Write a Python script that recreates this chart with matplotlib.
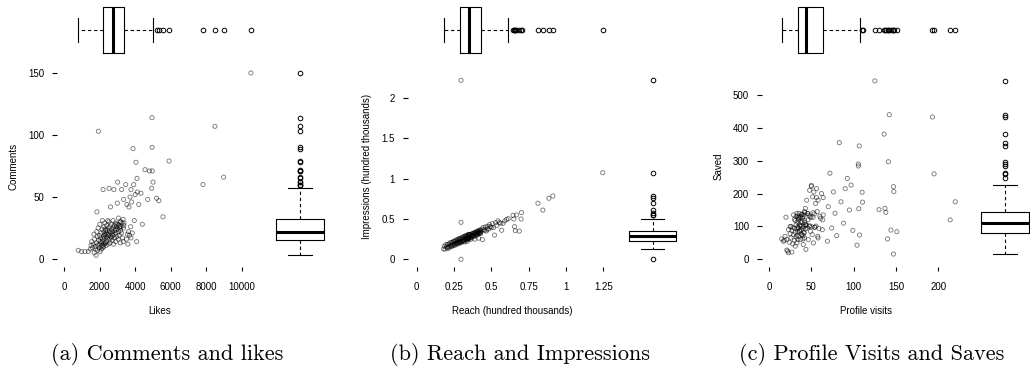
import matplotlib.pyplot as plt

plt.rcParams['font.family'] = ['Liberation Sans', 'DejaVu Sans']

# (a) likes vs comments
likes = [800, 990, 1180, 1365, 1480, 1520, 1560, 1600, 1640, 1680, 1700, 1720, 1750, 1780, 1800, 1820, 1840, 1850, 1870, 1890,
         1900, 1920, 1930, 1950, 1970, 1990, 2000, 2010, 2030, 2050, 2060, 2080, 2090, 2100, 2120, 2140, 2150, 2160, 2170, 2180,
         2195, 2200, 2215, 2225, 2235, 2245, 2255, 2265, 2280, 2290, 2300, 2310, 2325, 2340, 2350, 2365, 2380, 2390, 2400, 2410,
         2425, 2440, 2455, 2470, 2480, 2495, 2510, 2520, 2535, 2545, 2560, 2575, 2590, 2600, 2615, 2630, 2645, 2660, 2675, 2690,
         2710, 2725, 2740, 2755, 2770, 2785, 2800, 2815, 2830, 2845, 2860, 2875, 2890, 2905, 2920, 2935, 2950, 2965, 2980, 2995,
         3015, 3030, 3045, 3060, 3075, 3090, 3105, 3120, 3135, 3150, 3165, 3180, 3195, 3210, 3225, 3240, 3260, 3290, 3320, 3350,
         3330, 3345, 3360, 3368, 3466, 3510, 3530, 3560, 3590, 3620, 3650, 3680, 3710, 3740, 3760, 3764, 3800, 3840, 3880, 3916,
         3950, 4000, 4045, 4080, 4100, 4120, 4200, 4326, 4400, 4550, 4700, 4800, 4926, 4944, 4950, 4960, 5000, 5200, 5330, 5560,
         5900, 7810, 8480, 8970, 10500]
comments = [7, 6, 6, 6, 8, 11, 14, 9, 12, 20, 5, 16, 10, 8, 3, 13, 22, 38, 18, 7,
            11, 25, 103, 15, 9, 19, 12, 28, 6, 17, 14, 10, 21, 8, 13, 24, 11, 31, 16, 9,
            56, 14, 18, 10, 22, 26, 12, 17, 20, 29, 13, 19, 24, 13, 23, 11, 21, 18, 27, 14,
            23, 17, 31, 20, 12, 25, 19, 30, 57, 16, 22, 26, 13, 18, 42, 21, 28, 17, 24, 20,
            15, 22, 19, 31, 25, 12, 56, 20, 27, 17, 24, 23, 29, 14, 21, 28, 26, 18, 24, 45,
            62, 28, 16, 33, 22, 27, 19, 26, 25, 30, 13, 23, 30, 26, 21, 56, 29, 17, 32, 48,
            14, 25, 27, 29, 60, 16, 44, 20, 12, 22, 42, 19, 50, 26, 17, 56, 46, 21, 89, 60,
            31, 52, 78, 14, 65, 54, 44, 53, 28, 72, 48, 71, 57, 114, 90, 71, 62, 49, 47, 34,
            79, 60, 107, 66, 150]

# (b) reach vs impressions, hundred thousands
reach = [0.180, 0.185, 0.190, 0.195, 0.200, 0.203, 0.206, 0.210, 0.213, 0.216, 0.220, 0.223, 0.226, 0.229, 0.232, 0.235,
         0.238, 0.240, 0.243, 0.246, 0.248, 0.250, 0.253, 0.256, 0.258, 0.260, 0.263, 0.265, 0.268, 0.270, 0.272, 0.275,
         0.277, 0.279, 0.281, 0.283, 0.285, 0.286, 0.288, 0.289,
         0.291, 0.293, 0.295, 0.297, 0.297, 0.297, 0.299, 0.301, 0.303, 0.305, 0.307, 0.309, 0.311, 0.313, 0.315, 0.317,
         0.319, 0.321, 0.323, 0.325, 0.327, 0.329, 0.331, 0.333, 0.334, 0.335, 0.337, 0.338, 0.339, 0.341, 0.342, 0.343,
         0.344, 0.345, 0.346, 0.347, 0.348, 0.349, 0.350, 0.351,
         0.353, 0.355, 0.357, 0.359, 0.361, 0.363, 0.365, 0.367, 0.369, 0.371, 0.373, 0.375, 0.377, 0.379, 0.381, 0.383,
         0.385, 0.387, 0.389, 0.391, 0.393, 0.395, 0.397, 0.399, 0.401, 0.403, 0.405, 0.407, 0.409, 0.411, 0.413, 0.415,
         0.417, 0.419, 0.421, 0.423, 0.424, 0.425, 0.427, 0.428,
         0.431, 0.436, 0.441, 0.446, 0.451, 0.456, 0.461, 0.466, 0.471, 0.476, 0.482, 0.488, 0.494, 0.500, 0.507, 0.514,
         0.521, 0.528, 0.536, 0.544, 0.553, 0.562, 0.569, 0.578, 0.590, 0.602, 0.613,
         0.645, 0.650, 0.655, 0.660, 0.668, 0.687, 0.699, 0.702, 0.812, 0.845, 0.885, 0.912, 1.246]
impressions = [0.128, 0.162, 0.127, 0.181, 0.155, 0.143, 0.185, 0.134, 0.156, 0.189, 0.152, 0.205, 0.177, 0.165, 0.207, 0.155,
               0.177, 0.209, 0.172, 0.224, 0.196, 0.183, 0.225, 0.173, 0.194, 0.226, 0.189, 0.240, 0.213, 0.200, 0.241, 0.189,
               0.210, 0.242, 0.204, 0.256, 0.227, 0.213, 0.255, 0.201,
               0.222, 0.254, 0.216, 2.220, 0.000, 0.459, 0.264, 0.211, 0.233, 0.264, 0.226, 0.278, 0.249, 0.236, 0.278, 0.224,
               0.215, 0.278, 0.240, 0.291, 0.263, 0.250, 0.291, 0.238, 0.259, 0.290, 0.251, 0.222, 0.273, 0.260, 0.301, 0.247,
               0.267, 0.298, 0.259, 0.310, 0.281, 0.267, 0.308, 0.253,
               0.275, 0.307, 0.268, 0.305, 0.292, 0.248, 0.305, 0.267, 0.289, 0.320, 0.282, 0.319, 0.305, 0.292, 0.319, 0.281,
               0.302, 0.334, 0.250, 0.332, 0.319, 0.306, 0.332, 0.294, 0.316, 0.348, 0.309, 0.346, 0.333, 0.319, 0.346, 0.262,
               0.329, 0.361, 0.323, 0.360, 0.345, 0.331, 0.358, 0.319,
               0.341, 0.376, 0.244, 0.394, 0.368, 0.358, 0.402, 0.351, 0.375, 0.410, 0.375, 0.430, 0.405, 0.395, 0.441, 0.392,
               0.300, 0.454, 0.421, 0.477, 0.455, 0.448, 0.360, 0.446, 0.477, 0.495, 0.504,
               0.545, 0.500, 0.405, 0.355, 0.550, 0.350, 0.500, 0.580, 0.695, 0.610, 0.757, 0.785, 1.074]

# (c) profile visits vs saved
visits = [15, 17, 18, 19, 20, 21, 21, 22, 23, 23, 24, 25, 25, 26, 26, 27, 27, 28, 28, 29,
          29, 30, 30, 30, 31, 31, 31, 32, 32, 32, 33, 33, 33, 33, 34, 34, 34, 34, 34, 34,
          34.7, 35, 35, 35.5, 36, 36, 36.5, 37, 37, 37.5, 38, 38, 38.5, 39, 39, 39.5, 40, 40, 40, 40.5,
          41, 41, 41.5, 42, 42, 42, 42.5, 43, 43, 43.5, 35.2, 36.2, 37.2, 38.2, 39.2, 40.2, 41.2, 42.2, 43.2, 43.6,
          44, 44.5, 45, 45.5, 46, 46.5, 47, 47.5, 48, 48.5, 49, 49.5, 50, 50.5, 51, 51.5, 52, 52.5, 53, 53.5,
          54, 55, 55.5, 56, 57, 57.5, 58, 59, 60, 61, 62, 63, 64, 46, 48, 50, 52, 54, 56, 58,
          63.5, 64, 69, 70, 72, 74, 76, 78, 80, 83, 85, 88, 90, 92.5, 95, 97, 99, 104, 105.5, 105.5,
          106, 106.6, 107,
          110, 110.5, 125, 130, 136, 137, 138, 140, 141, 142, 144, 147, 147.5, 147, 151, 193, 195, 214, 220]
saved = [62, 55, 58, 70, 128, 28, 60, 25, 20, 90, 52, 78, 100, 65, 100, 22, 88, 47, 96, 75,
         135, 58, 95, 122, 40, 82, 118, 68, 105, 130, 50, 92, 140, 73, 112, 85, 132, 60, 98, 125,
         95, 120, 70, 140, 105, 85, 126, 103, 60, 130, 100, 90, 136, 115, 75, 125, 62, 95, 130, 45,
         135, 100, 80, 118, 145, 65, 112, 155, 92, 104, 128, 88, 112, 76, 138, 72, 82, 142, 106, 30,
         104, 180, 95, 140, 120, 60, 134, 100, 210, 130, 85, 127, 225, 99, 75, 190, 128, 50, 205, 138,
         98, 170, 101, 215, 145, 70, 180, 94, 131, 125, 200, 90, 135, 139, 102, 222, 142, 97, 188, 65,
         120, 188, 55, 160, 262, 95, 205, 140, 72, 355, 175, 110, 215, 246, 150, 226, 88, 43, 290, 284,
         154, 345, 74,
         204, 174, 543, 151, 381, 155, 143, 62, 297, 440, 89, 221, 206, 16, 84, 433, 260, 120, 175]

W, H = 1030, 369
fig = plt.figure(figsize=(W / 100, H / 100), dpi=100)


def add_px_axes(x0, y0, x1, y1):
    # pixel box (from top-left) -> figure fraction
    return fig.add_axes([x0 / W, 1 - y1 / H, (x1 - x0) / W, (y1 - y0) / H])


def hide(ax):
    ax.set_xticks([])
    ax.set_yticks([])
    for s in ax.spines.values():
        s.set_visible(False)
    ax.patch.set_alpha(0)


box_style = dict(
    patch_artist=False,
    boxprops=dict(color='black', linewidth=0.8),
    medianprops=dict(color='black', linewidth=2.2),
    whiskerprops=dict(color='black', linewidth=0.8, linestyle=(0, (3, 2.5))),
    capprops=dict(color='black', linewidth=0.8),
    flierprops=dict(marker='o', markersize=3.3, markerfacecolor='none',
                    markeredgecolor='black', markeredgewidth=0.7),
)


def panel(x, y, left, right, xlim, ylim, xticks, xlabels, yticks, ylabels,
          xlabel, ylabel, rbox_cx, caption, cap_x):
    top, bottom = 68, 264
    ax = add_px_axes(left, top, right, bottom)
    ax.scatter(x, y, s=9, facecolors='none', edgecolors='black', linewidths=0.6, alpha=0.55)
    ax.set_xlim(xlim)
    ax.set_ylim(ylim)
    for s in ax.spines.values():
        s.set_visible(False)
    ax.spines['left'].set_position(('outward', 3.8))
    ax.spines['bottom'].set_position(('outward', 2))
    ax.set_xticks(xticks, xlabels)
    ax.set_yticks(yticks, ylabels)
    ax.tick_params(axis='x', length=3.0, width=0.8, labelsize=7, pad=8)
    ax.tick_params(axis='y', length=3.6, width=0.8, labelsize=7, pad=5.5)
    ax.set_xlabel(xlabel, fontsize=7, labelpad=10)
    ax.set_ylabel(ylabel, fontsize=7, labelpad=7)
    ax.patch.set_alpha(0)

    # marginal box on top
    axt = add_px_axes(left, 3, right, 57)
    axt.boxplot(x, positions=[0.5], widths=0.852, orientation='horizontal', **box_style)
    axt.set_xlim(xlim)
    axt.set_ylim(0, 1)
    hide(axt)

    # marginal box on the right
    axr = add_px_axes(rbox_cx - 30, top, rbox_cx + 30, bottom)
    axr.boxplot(y, positions=[0.5], widths=0.8, **box_style)
    axr.set_xlim(0, 1)
    axr.set_ylim(ylim)
    hide(axr)

    fig.text(cap_x / W, 1 - 355 / H, caption, ha='center', va='center',
             fontsize=16, family='cmr10')


panel(likes, comments, 62, 258, (-112, 10899), (-4.03, 154.0),
      [0, 2000, 4000, 6000, 8000, 10000], ['0', '2000', '4000', '6000', '8000', '10000'],
      [0, 50, 100, 150], ['0', '50', '100', '150'],
      'Likes', 'Comments', 300, '(a) Comments and likes', 167)

panel(reach, impressions, 413, 612, (-0.0248, 1.308), (-0.0583, 2.373),
      [0, 0.25, 0.5, 0.75, 1, 1.25], ['0', '0.25', '0.5', '0.75', '1', '1.25'],
      [0, 0.5, 1, 1.5, 2], ['0', '0.5', '1', '1.5', '2'],
      'Reach (hundred thousands)', 'Impressions (hundred thousands)', 652.5,
      '(b) Reach and Impressions', 520)

panel(visits, saved, 767, 965, (-2.36, 231.5), (-14.3, 582.2),
      [0, 50, 100, 150, 200], ['0', '50', '100', '150', '200'],
      [0, 100, 200, 300, 400, 500], ['0', '100', '200', '300', '400', '500'],
      'Profile visits', 'Saved', 1005, '(c) Profile Visits and Saves', 871.5)

fig.savefig('out.png', dpi=100)
